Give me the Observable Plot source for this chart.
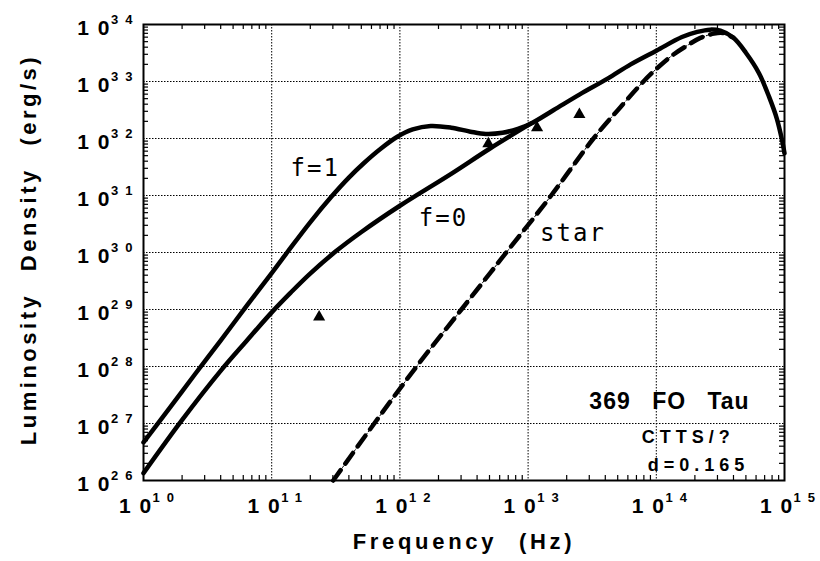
<!DOCTYPE html>
<html><head><meta charset="utf-8">
<script src="https://cdn.jsdelivr.net/npm/d3@7"></script>
<script src="https://cdn.jsdelivr.net/npm/@observablehq/plot@0.6"></script>
<style>
html,body{margin:0;padding:0;background:#fff;}
#chart svg{font-family:"Liberation Sans",Arial,sans-serif;background:#fff;}
g[aria-description="xtitle"] text{letter-spacing:3.7px;word-spacing:12px;}
g[aria-description="ytitle"] text{letter-spacing:3.5px;word-spacing:12px;}
g[aria-description="name"] text{letter-spacing:1px;word-spacing:14px;}
g[aria-description="info"] text{letter-spacing:5px;}
g[aria-description="curvelab"] text{letter-spacing:2px;}
</style></head><body><div id="chart"></div>
<script>
// tick exponents (labels are 10^exp)
const xTickExp = [10, 11, 12, 13, 14, 15];
const yTickExp = [26, 27, 28, 29, 30, 31, 32, 33, 34];
const minorMult = [2, 3, 4, 5, 6, 7, 8, 9];

// curves, as log10(frequency) / log10(luminosity)
const f1Lx = [10.0, 10.2, 10.4, 10.6, 10.8, 11.0, 11.12, 11.3, 11.47, 11.6, 11.72, 11.85, 11.98, 12.1, 12.24, 12.4, 12.55, 12.67, 12.8, 12.92];
const f1Ly = [26.67, 27.26, 27.86, 28.45, 29.05, 29.64, 30.0, 30.53, 30.99, 31.31, 31.57, 31.82, 32.03, 32.16, 32.22, 32.19, 32.12, 32.08, 32.1, 32.17];
const f0Lx = [10.0, 10.3, 10.6, 10.8, 11.0, 11.15, 11.3, 11.5, 11.7, 12.0, 12.4, 12.7];
const f0Ly = [26.13, 27.06, 27.92, 28.44, 28.95, 29.3, 29.63, 30.02, 30.36, 30.82, 31.38, 31.82];
// shared part of both model curves (f=0 and f=1 coincide)
const tailLx = [13.02, 13.2, 13.4, 13.62, 13.8, 14.0, 14.2, 14.32, 14.42, 14.5, 14.6, 14.7, 14.8, 14.88, 14.94, 14.98, 15.0];
const tailLy = [32.26, 32.5, 32.77, 33.05, 33.3, 33.54, 33.78, 33.87, 33.91, 33.89, 33.77, 33.5, 33.15, 32.73, 32.35, 31.98, 31.74];
// stellar photosphere (dashed)
const starLx = [11.48, 11.8, 12.13, 12.48, 12.83, 13.18, 13.51, 13.72, 13.9, 14.0, 14.12, 14.24, 14.34, 14.45, 14.52, 14.6];
const starLy = [26.0, 27.0, 28.0, 29.0, 30.0, 31.0, 32.0, 32.55, 33.0, 33.22, 33.45, 33.63, 33.76, 33.84, 33.85, 33.77];
// observed photometry (triangles)
const obsLx = [11.37, 12.69, 13.07, 13.4];
const obsLy = [28.87, 31.91, 32.19, 32.42];

// labels
const curveLabels = ["f=1", "f=0", "star"];
const curveLabLx = [11.34, 12.34, 13.35];
const curveLabLy = [31.47, 30.6, 30.33];
const nameText = "369 FO Tau";
const infoTexts = ["CTTS/?", "d=0.165"];
const infoLx = [14.25, 14.33];
const infoLy = [26.754, 26.263];
const nameLx = 14.103, nameLy = 27.377;
const xTitle = "Frequency (Hz)";
const yTitle = "Luminosity Density (erg/s)";

const pts = (lx, ly) => lx.map((v, i) => ({x: 10 ** v, y: 10 ** ly[i]}));
const f1 = pts(f1Lx.concat(tailLx), f1Ly.concat(tailLy));
const f0 = pts(f0Lx.concat(tailLx.slice(0, 1)), f0Ly.concat(tailLy.slice(0, 1)));
const star = pts(starLx, starLy);
const obs = pts(obsLx, obsLy);
const labs = curveLabels.map((t, i) => ({t, x: 10 ** curveLabLx[i], y: 10 ** curveLabLy[i]}));
const infos = infoTexts.map((t, i) => ({t, x: 10 ** infoLx[i], y: 10 ** infoLy[i]}));

const xTicks = xTickExp.map(e => 10 ** e);
const yTicks = yTickExp.map(e => 10 ** e);
const minorX = xTickExp.slice(0, -1).flatMap(e => minorMult.map(m => m * 10 ** e));
const minorY = yTickExp.slice(0, -1).flatMap(e => minorMult.map(m => m * 10 ** e));

const W = 820, H = 561, mL = 143, mR = 36, mT = 24, mB = 81;
const fw = W - mL - mR, fh = H - mT - mB;
const tl = 5;

const svg = Plot.plot({
  width: W, height: H,
  marginLeft: mL, marginRight: mR, marginTop: mT, marginBottom: mB,
  x: {type: "log", domain: [1e10, 1e15], axis: null},
  y: {type: "log", domain: [1e26, 1e34], axis: null},
  marks: [
    Plot.ruleX(xTicks.slice(1, -1), {stroke: "#000", strokeWidth: 1, strokeDasharray: "1.5,1.5"}),
    Plot.ruleY(yTicks.slice(1, -1), {stroke: "#000", strokeWidth: 1, strokeDasharray: "1.5,1.5"}),
    Plot.tickX(minorX, {x: d => d, insetTop: fh - tl, stroke: "#000", strokeWidth: 1.2}),
    Plot.tickX(minorX, {x: d => d, insetBottom: fh - tl, stroke: "#000", strokeWidth: 1.2}),
    Plot.tickY(minorY, {y: d => d, insetRight: fw - tl, stroke: "#000", strokeWidth: 1.2}),
    Plot.tickY(minorY, {y: d => d, insetLeft: fw - tl, stroke: "#000", strokeWidth: 1.2}),
    Plot.line(star, {x: "x", y: "y", stroke: "#000", strokeWidth: 1, strokeDasharray: "2,2", curve: "catmull-rom"}),
    Plot.line(star, {x: "x", y: "y", stroke: "#000", strokeWidth: 4.5, strokeDasharray: "13,8", curve: "catmull-rom"}),
    Plot.line(f0, {x: "x", y: "y", stroke: "#000", strokeWidth: 4.5, curve: "catmull-rom"}),
    Plot.line(f1, {x: "x", y: "y", stroke: "#000", strokeWidth: 4.5, curve: "catmull-rom"}),
    Plot.dot(obs, {x: "x", y: "y", symbol: "triangle", r: 4.5, fill: "#000", stroke: "none"}),
    Plot.frame({stroke: "#000", strokeWidth: 2}),
    Plot.text(labs, {x: "x", y: "y", text: "t", fontFamily: "DejaVu Sans Mono", fontSize: 24, fill: "#000", ariaDescription: "curvelab"}),
    Plot.text([nameText], {x: 10 ** nameLx, y: 10 ** nameLy, fontSize: 23, fontWeight: "bold", fill: "#000", ariaDescription: "name"}),
    Plot.text(infos, {x: "x", y: "y", text: "t", fontSize: 18, fontWeight: "bold", fill: "#000", ariaDescription: "info"}),
    Plot.text(xTickExp, {x: e => 10 ** e, frameAnchor: "bottom", text: e => String(e), textAnchor: "middle", lineAnchor: "top", dy: 18, dx: 3, fontSize: 21, fontWeight: "bold", fill: "#000", ariaDescription: "xtick"}),
    Plot.text(yTickExp, {y: e => 10 ** e, frameAnchor: "left", text: e => String(e), textAnchor: "end", dx: -11, dy: 4, fontSize: 21, fontWeight: "bold", fill: "#000", ariaDescription: "ytick"}),
    Plot.text([xTitle], {frameAnchor: "bottom", dy: 68, textAnchor: "middle", fontSize: 22, fontWeight: "bold", fill: "#000", ariaDescription: "xtitle"}),
    Plot.text([yTitle], {frameAnchor: "left", dx: -115, dy: -3, rotate: -90, textAnchor: "middle", fontSize: 22, fontWeight: "bold", fill: "#000", ariaDescription: "ytitle"})
  ]
});

d3.select(svg).selectAll('g[aria-description="xtick"] text, g[aria-description="ytick"] text').each(function () {
  const s = this.textContent;
  const el = d3.select(this);
  el.text("");
  el.append("tspan").attr("letter-spacing", 1.5).text("1 0");
  el.append("tspan").attr("font-size", 13).attr("dy", -11).text(s[0]);
  el.append("tspan").attr("font-size", 13).attr("dx", 7).text(s[1]);
});

document.getElementById("chart").appendChild(svg);
</script>
</body></html>
